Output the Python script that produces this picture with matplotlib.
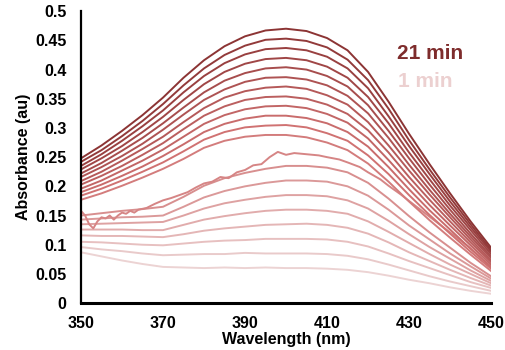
import matplotlib.pyplot as plt
import numpy as np
from matplotlib.colors import LinearSegmentedColormap

plt.rcParams["font.family"] = ["Liberation Sans", "DejaVu Sans"]
plt.rcParams["font.weight"] = "bold"

# wavelength grid (nm) shared by the smooth spectra
wavelength = [350, 355, 360, 365, 370, 375, 380, 385, 390, 395, 400,
              405, 410, 415, 420, 425, 430, 435, 440, 445, 450]

# absorbance (au) per minute
abs_01 = [.087, .080, .073, .067, .062, .061, .060, .061, .060, .061, .060, .060, .059, .057, .053, .047, .040, .034, .027, .021, .016]
abs_02 = [.096, .092, .089, .085, .082, .083, .084, .084, .086, .085, .085, .085, .084, .081, .075, .066, .056, .046, .037, .029, .021]
abs_03 = [.105, .104, .102, .100, .099, .102, .105, .107, .108, .110, .110, .110, .109, .105, .097, .085, .072, .060, .048, .036, .026]
abs_04 = [.116, .115, .115, .114, .113, .118, .124, .128, .131, .134, .135, .136, .134, .129, .119, .104, .087, .072, .057, .043, .030]
abs_05 = [.126, .126, .126, .125, .125, .134, .143, .149, .154, .158, .160, .160, .158, .153, .140, .122, .103, .084, .066, .050, .034]
abs_06 = [.135, .136, .137, .138, .139, .150, .162, .171, .177, .182, .185, .185, .183, .176, .162, .141, .118, .096, .076, .056, .038]
abs_07 = [.143, .145, .147, .148, .150, .165, .181, .192, .200, .206, .210, .210, .208, .200, .184, .160, .133, .109, .085, .063, .042]
abs_08 = [.150, .154, .158, .161, .165, .182, .201, .214, .223, .230, .235, .235, .232, .224, .206, .179, .149, .121, .095, .069, .046]
abs_10 = [.177, .188, .201, .215, .230, .247, .266, .278, .285, .288, .288, .284, .275, .262, .239, .208, .174, .142, .112, .083, .055]
abs_11 = [.184, .196, .210, .225, .241, .260, .280, .293, .301, .304, .305, .301, .291, .278, .253, .221, .185, .151, .119, .088, .059]
abs_12 = [.190, .203, .218, .234, .252, .272, .293, .307, .316, .321, .321, .317, .308, .293, .268, .233, .195, .159, .126, .093, .062]
abs_13 = [.196, .210, .227, .244, .263, .285, .307, .322, .332, .337, .338, .334, .324, .309, .282, .245, .206, .168, .133, .099, .066]
abs_14 = [.203, .218, .235, .254, .274, .298, .321, .337, .348, .353, .354, .350, .340, .324, .296, .258, .216, .177, .140, .104, .070]
abs_15 = [.209, .225, .244, .264, .285, .310, .334, .352, .363, .369, .371, .367, .356, .340, .310, .270, .227, .186, .147, .109, .073]
abs_16 = [.216, .233, .252, .273, .297, .323, .348, .366, .379, .386, .387, .383, .373, .355, .325, .283, .237, .194, .153, .114, .077]
abs_17 = [.222, .240, .261, .283, .308, .335, .361, .381, .394, .402, .404, .400, .389, .371, .339, .295, .248, .203, .160, .119, .080]
abs_18 = [.229, .248, .269, .293, .319, .348, .375, .396, .410, .418, .420, .416, .405, .386, .353, .308, .258, .212, .167, .125, .084]
abs_19 = [.235, .255, .278, .303, .330, .361, .389, .411, .426, .435, .437, .433, .422, .402, .368, .320, .269, .221, .174, .130, .088]
abs_20 = [.242, .262, .286, .312, .341, .373, .402, .425, .441, .451, .453, .449, .438, .417, .382, .333, .279, .229, .181, .135, .091]
abs_21 = [.248, .270, .295, .322, .352, .386, .416, .440, .457, .467, .470, .466, .454, .433, .396, .345, .290, .238, .188, .140, .095]

# the 9 min spectrum is noisy, so it has its own finer grid
wl_09 = [350, 351, 352, 353, 354, 355, 356, 357, 358, 359, 360, 361, 362, 363, 364,
         366, 368, 370, 372, 374, 376, 378, 380, 382, 384, 386, 388, 390, 392, 394,
         396, 398, 400, 402, 405, 408, 410, 413, 415, 418, 420, 423, 425, 428, 430,
         435, 440, 445, 450]
abs_09 = [.158, .150, .135, .128, .140, .147, .145, .150, .143, .150, .155, .153, .158, .155, .160,
          .163, .170, .176, .180, .185, .190, .198, .205, .208, .216, .214, .224, .228, .236, .238,
          .250, .259, .254, .257, .255, .253, .250, .246, .241, .233, .224, .212, .201, .186, .175,
          .148, .121, .094, .062]

spectra = [
    (1, wavelength, abs_01), (2, wavelength, abs_02), (3, wavelength, abs_03),
    (4, wavelength, abs_04), (5, wavelength, abs_05), (6, wavelength, abs_06),
    (7, wavelength, abs_07), (8, wavelength, abs_08), (9, wl_09, abs_09),
    (10, wavelength, abs_10), (11, wavelength, abs_11), (12, wavelength, abs_12),
    (13, wavelength, abs_13), (14, wavelength, abs_14), (15, wavelength, abs_15),
    (16, wavelength, abs_16), (17, wavelength, abs_17), (18, wavelength, abs_18),
    (19, wavelength, abs_19), (20, wavelength, abs_20), (21, wavelength, abs_21),
]

fade = LinearSegmentedColormap.from_list("fade", ["#ecd3d3", "#d07272", "#8c3434"])

fig = plt.figure(figsize=(5.05, 3.5), dpi=100)
ax = fig.add_axes([0.1604, 0.134, 0.812, 0.834])

for minute, wl, vals in spectra:
    ax.plot(wl, vals, color=fade((minute - 1) / 20), lw=1.4)

ax.set_xlim(350, 450)
ax.set_ylim(0, 0.5)
ax.set_xticks([350, 370, 390, 410, 430, 450])
yt = np.arange(0, 0.501, 0.05)
ax.set_yticks(yt)
ax.set_yticklabels([f"{v:g}" for v in yt])
ax.tick_params(length=0, labelsize=11.5)
ax.tick_params(axis="y", pad=10.5)
ax.tick_params(axis="x", pad=9.5)

for side in ["top", "right"]:
    ax.spines[side].set_visible(False)
ax.spines["left"].set_linewidth(1.6)
ax.spines["bottom"].set_linewidth(2.2)

ax.set_ylabel("Absorbance (au)", fontsize=11.5, fontweight="bold", labelpad=3)
ax.set_xlabel("Wavelength (nm)", fontsize=11.5, fontweight="bold", labelpad=0.5)

ax.text(427, 0.428, "21 min", color="#7e2c2c", fontsize=15, fontweight="bold",
        ha="left", va="center")
ax.text(427.3, 0.380, "1 min", color="#ecd0d0", fontsize=15, fontweight="bold",
        ha="left", va="center")

fig.savefig("out.png", dpi=100)
